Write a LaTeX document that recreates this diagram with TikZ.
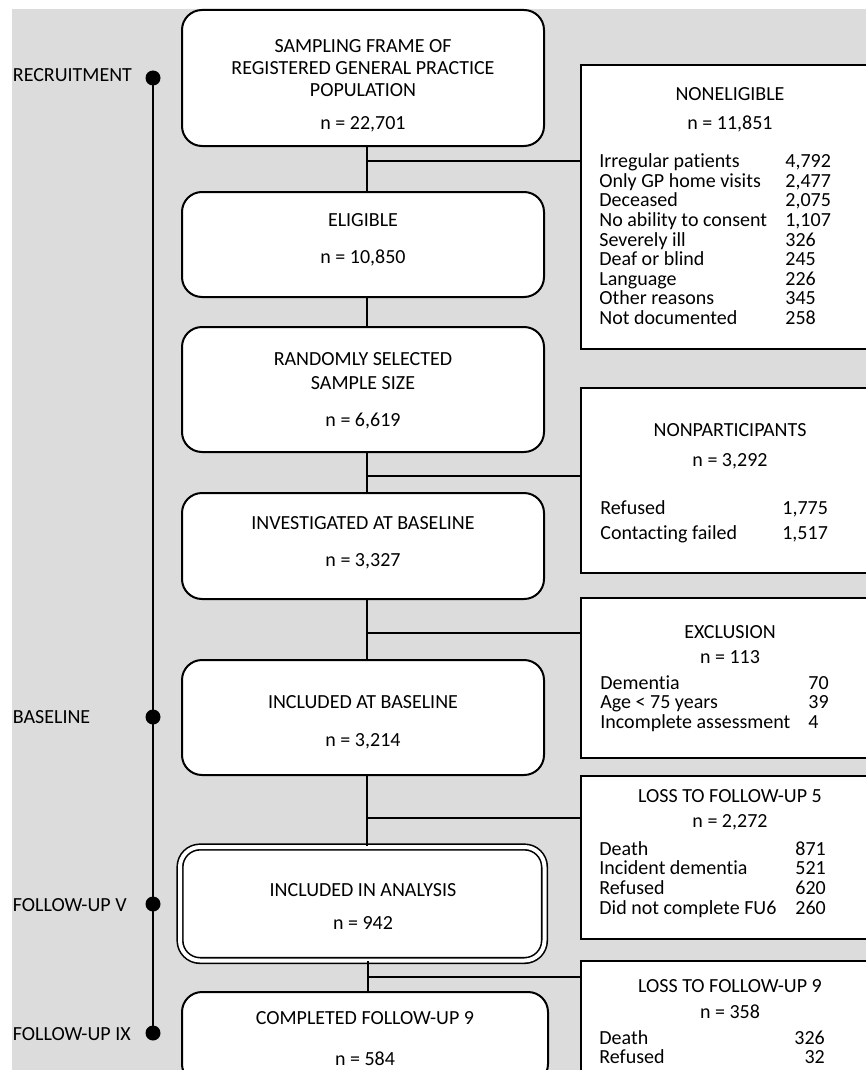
\documentclass[tikz,border=0pt]{standalone}
\usepackage{fontspec}
\setmainfont[Ligatures=NoCommon]{Carlito}
\definecolor{bggray}{RGB}{220,220,220}
\tikzset{
  mainbox/.style={draw, line width=1pt, fill=white, rounded corners=10pt, minimum width=181pt, inner sep=0pt},
  boxtext/.style={align=center, inner sep=0pt, font=\fontsize{10}{11}\selectfont},
  sidebox/.style={draw, line width=1pt, fill=white, minimum width=149.5pt, inner sep=0pt},
  sidetitle/.style={align=center, inner sep=0pt, font=\fontsize{10}{11}\selectfont},
  sidelist/.style={anchor=west, inner sep=0pt},
  stage/.style={anchor=west, inner sep=0pt, font=\fontsize{10}{11}\selectfont},
  stagedot/.style={circle, fill=black, minimum size=7.5pt, inner sep=0pt},
  link/.style={line width=1pt}
}
\begin{document}
\begin{tikzpicture}[x=0.5pt, y=-0.5pt]
    \useasboundingbox (0,0) rectangle (866,1070);
    \clip (0,0) rectangle (866,1070);
    \fill [bggray] (12,9) rectangle (900,1100);

    % main column
    \node [mainbox, minimum height=68pt] (sample) at (363,78) {};
    \node [mainbox, minimum height=52.5pt] (elig) at (363,244.5) {};
    \node [mainbox, minimum height=62.5pt] (rand) at (363,389.5) {};
    \node [mainbox, minimum height=53pt] (invest) at (363,546) {};
    \node [mainbox, minimum height=57.5pt] (inclbase) at (363,717.5) {};
    \node [mainbox, minimum width=182.25pt, minimum height=56.75pt, line width=0.8pt, double, double distance=2pt] (analysis) at (362.25,903.75) {};
    \node [mainbox, minimum width=183pt, minimum height=46pt] (complete) at (365,1038) {};

    \node [boxtext] (sample-t) at (363,86) {SAMPLING FRAME OF\\REGISTERED GENERAL PRACTICE\\POPULATION\\[5.5pt]n = 22,701};
    \node [boxtext] (elig-t) at (363,240) {ELIGIBLE\\[7.5pt]n = 10,850};
    \node [boxtext] (rand-t) at (363,390.5) {RANDOMLY SELECTED\\[1pt]SAMPLE SIZE\\[7.5pt]n = 6,619};
    \node [boxtext] (invest-t) at (363,543) {INVESTIGATED AT BASELINE\\[7.5pt]n = 3,327};
    \node [boxtext] (inclbase-t) at (363,722.5) {INCLUDED AT BASELINE\\[8pt]n = 3,214};
    \node [boxtext] (analysis-t) at (363,906.5) {INCLUDED IN ANALYSIS\\[5.5pt]n = 942};
    \node [boxtext] (complete-t) at (365,1038.5) {COMPLETED FOLLOW-UP 9\\[9.5pt]n = 584};

    % side boxes
    \node [sidebox, minimum height=142pt] (nonelig) at (730.5,207) {};
    \node [sidebox, minimum height=92.5pt] (nonpart) at (730.5,480.5) {};
    \node [sidebox, minimum height=80pt] (excl) at (730.5,678) {};
    \node [sidebox, minimum height=81.5pt] (loss5) at (730.5,857.5) {};
    \node [sidebox, minimum height=69.5pt] (loss9) at (730.5,1030.5) {};

    \node [sidetitle] (nonelig-t) at (730,110) {NONELIGIBLE\\[3.5pt]n = 11,851};
    \node [sidetitle] (nonpart-t) at (730,446) {NONPARTICIPANTS\\[4pt]n = 3,292};
    \node [sidetitle] (excl-t) at (730,644.5) {EXCLUSION\\[1.5pt]n = 113};
    \node [sidetitle] (loss5-t) at (730,809.5) {LOSS TO FOLLOW-UP 5\\[1.5pt]n = 2,272};
    \node [sidetitle] (loss9-t) at (730,999) {LOSS TO FOLLOW-UP 9\\[2pt]n = 358};

    \node [sidelist, font=\fontsize{10}{9.625}\selectfont] (nonelig-l) at (599,242) {\begin{tabular}{@{}p{93pt}@{}l@{}}
        Irregular patients & 4,792\\
        Only GP home visits & 2,477\\
        Deceased & 2,075\\
        No ability to consent & 1,107\\
        Severely ill & 326\\
        Deaf or blind & 245\\
        Language & 226\\
        Other reasons & 345\\
        Not documented & 258
      \end{tabular}};
    \node [sidelist, font=\fontsize{10}{12.5}\selectfont] (nonpart-l) at (600,522) {\begin{tabular}{@{}p{91pt}@{}l@{}}
        Refused & 1,775\\
        Contacting failed & 1,517
      \end{tabular}};
    \node [sidelist, font=\fontsize{10}{9.75}\selectfont] (excl-l) at (600,705) {\begin{tabular}{@{}p{104pt}@{}l@{}}
        Dementia & 70\\
        Age < 75 years & 39\\
        Incomplete assessment & 4
      \end{tabular}};
    \node [sidelist, font=\fontsize{10}{9.65}\selectfont] (loss5-l) at (599,880.6) {\begin{tabular}{@{}p{98pt}@{}l@{}}
        Death & 871\\
        Incident dementia & 521\\
        Refused & 620\\
        Did not complete FU6 & 260
      \end{tabular}};
    \node [sidelist, font=\fontsize{10}{9.5}\selectfont] (loss9-l) at (599,1050) {\begin{tabular}{@{}p{97.5pt}@{}r@{}}
        Death & 326\\
        Refused & 32
      \end{tabular}};

    % connectors
    \coordinate (j1) at (367,161);
    \coordinate (j2) at (367,476);
    \coordinate (j3) at (367,633);
    \coordinate (j4) at (367,818);
    \coordinate (j5) at (368,977);
    \draw [link] (sample.south -| j1) -- (elig.north -| j1);
    \draw [link] (j1) -- (j1 -| nonelig.west);
    \draw [link] (elig.south -| j1) -- (rand.north -| j1);
    \draw [link] (rand.south -| j2) -- (invest.north -| j2);
    \draw [link] (j2) -- (j2 -| nonpart.west);
    \draw [link] (invest.south -| j3) -- (inclbase.north -| j3);
    \draw [link] (j3) -- (j3 -| excl.west);
    \draw [link] (inclbase.south -| j4) -- (analysis.north -| j4);
    \draw [link] (j4) -- (j4 -| loss5.west);
    \draw [link] (analysis.south -| j5) -- (complete.north -| j5);
    \draw [link] (j5) -- (j5 -| loss9.west);

    % time line
    \node [stagedot] (d-recruit) at (153,78) {};
    \node [stagedot] (d-base) at (153,717) {};
    \node [stagedot] (d-fu5) at (153,904) {};
    \node [stagedot] (d-fu9) at (153,1033) {};
    \draw [link] (d-recruit.center) -- (d-fu9.center);

    \node [stage] (s-recruit) at (12.5,75) {RECRUITMENT};
    \node [stage] (s-base) at (12.5,717) {BASELINE};
    \node [stage] (s-fu5) at (12.5,905) {FOLLOW-UP V};
    \node [stage] (s-fu9) at (12.5,1034) {FOLLOW-UP IX};
\end{tikzpicture}
\end{document}
